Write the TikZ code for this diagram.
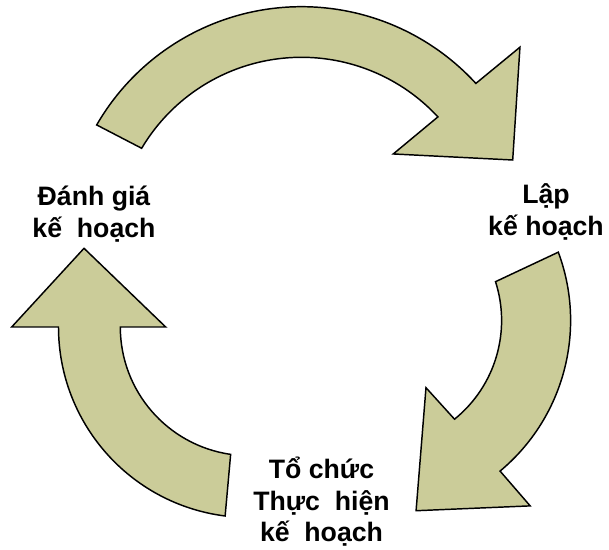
\documentclass[tikz,border=0pt]{standalone}
\usepackage{fontspec}
\setmainfont{Liberation Sans}
\definecolor{arrowfill}{RGB}{203,204,153}
\begin{document}
\begin{tikzpicture}[x=0.75pt,y=0.75pt,
  arrowshape/.style={fill=arrowfill, draw=black, line width=1.1pt, line join=miter},
  lbl/.style={font=\fontsize{20}{23.6}\selectfont\bfseries, align=center, inner sep=0pt}]
\useasboundingbox (0,0) rectangle (609,549);
% top arrow
\begin{scope}[shift={(301.5,305.8)}]
\path[arrowshape] (150:236.5) arc[start angle=150, end angle=42.5, radius=236.5]
  -- (41.9:293.5) -- (21.5:227) -- (44.2:128) -- (42.8:185.9)
  arc[start angle=42.8, end angle=149.3, radius=185.9] -- cycle;
\end{scope}
% right arrow
\begin{scope}[shift={(374.6,228.5)}]
\path[arrowshape] (20.4:196) arc[start angle=20.4, end angle=-50.2, radius=196]
  -- (-50:242) -- (-77.7:194.7) -- (-52.6:84.6) -- (-51:127)
  arc[start angle=-51, end angle=17.8, radius=127] -- cycle;
\end{scope}
% left arrow
\begin{scope}[shift={(249,222)}]
\path[arrowshape] (262.8:190.5) arc[start angle=262.8, end angle=180, radius=190.5]
  -- (180:237.3) -- (154.5:182.8) -- (180:83.3) -- (180:128.7)
  arc[start angle=180, end angle=261.8, radius=128.7] -- cycle;
\end{scope}
% labels
\node[lbl] (eval) at (94,335) {Đánh giá\\kế\ \ hoạch};
\node[lbl] (plan) at (546,337) {Lập\\kế hoạch};
\node[lbl] (impl) at (321.5,47) {Tổ chức\\Thực\ \ hiện\\kế\ \ hoạch};
\end{tikzpicture}
\end{document}
